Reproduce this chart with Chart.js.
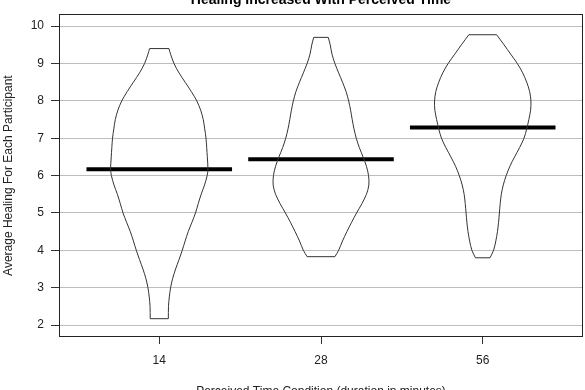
<!DOCTYPE html>
<html>
<head>
<meta charset="utf-8">
<script src="https://cdn.jsdelivr.net/npm/chart.js@4"></script>
<style>
html,body{margin:0;padding:0;background:#fff;}
#wrap{width:585px;height:390px;position:relative;}
</style>
</head>
<body>
<div id="wrap"><canvas id="c" width="585" height="390"></canvas></div>
<script>
// ---- data ----
const categories = ['14', '28', '56'];
const means = [6.17, 6.44, 7.29];
const yTicks = [2, 3, 4, 5, 6, 7, 8, 9, 10];

// violin profiles: levels (healing) and half-widths (in category units), top to bottom
const levels14 = [9.4, 9.25, 9.0, 8.75, 8.5, 8.25, 8.0, 7.75, 7.5, 7.25, 7.0, 6.5, 6.17, 6.0, 5.75, 5.5, 5.25, 5.0, 4.75, 4.5, 4.25, 4.0, 3.75, 3.5, 3.25, 3.0, 2.75, 2.5, 2.17];
const widths14 = [0.060, 0.070, 0.091, 0.122, 0.160, 0.198, 0.232, 0.256, 0.272, 0.281, 0.289, 0.297, 0.301, 0.296, 0.280, 0.259, 0.241, 0.224, 0.202, 0.179, 0.160, 0.142, 0.122, 0.101, 0.083, 0.070, 0.062, 0.057, 0.056];

const levels28 = [9.7, 9.5, 9.25, 9.0, 8.75, 8.5, 8.25, 8.0, 7.75, 7.5, 7.25, 7.0, 6.75, 6.5, 6.25, 6.0, 5.75, 5.5, 5.25, 5.0, 4.75, 4.5, 4.25, 4.0, 3.83];
const widths28 = [0.045, 0.057, 0.068, 0.086, 0.109, 0.133, 0.155, 0.171, 0.183, 0.193, 0.204, 0.218, 0.237, 0.260, 0.281, 0.294, 0.296, 0.281, 0.253, 0.220, 0.189, 0.160, 0.133, 0.109, 0.086];

const levels56 = [9.77, 9.5, 9.25, 9.0, 8.75, 8.5, 8.25, 8.0, 7.75, 7.5, 7.25, 7.0, 6.75, 6.5, 6.25, 6.0, 5.75, 5.5, 5.25, 5.0, 4.75, 4.5, 4.25, 4.0, 3.8];
const widths56 = [0.086, 0.132, 0.173, 0.214, 0.247, 0.272, 0.290, 0.298, 0.296, 0.285, 0.272, 0.255, 0.228, 0.197, 0.168, 0.145, 0.127, 0.115, 0.108, 0.103, 0.098, 0.091, 0.081, 0.067, 0.045];

const titleText = 'Healing Increased With Perceived Time';
const xTitleText = 'Perceived Time Condition (duration in minutes)';
const yTitleText = 'Average Healing For Each Participant';

// ---- build datasets ----
const FONT = '"Liberation Sans", Arial, Helvetica, sans-serif';
const profiles = [[levels14, widths14], [levels28, widths28], [levels56, widths56]];
const MEAN_HALF = 0.45;

const outline = {showLine: true, borderColor: '#333', borderWidth: 1, pointRadius: 0, fill: false};
const datasets = [];
profiles.forEach(([lv, wd], i) => {
  const c = i + 1;
  const n = lv.length;
  // right side and left side as smooth open curves
  datasets.push(Object.assign({data: lv.map((y, k) => ({x: c + wd[k], y})), tension: 0.3}, outline));
  datasets.push(Object.assign({data: lv.map((y, k) => ({x: c - wd[k], y})), tension: 0.3}, outline));
  // flat caps at top and bottom
  datasets.push(Object.assign({data: [{x: c - wd[0], y: lv[0]}, {x: c + wd[0], y: lv[0]}], tension: 0}, outline));
  datasets.push(Object.assign({data: [{x: c - wd[n - 1], y: lv[n - 1]}, {x: c + wd[n - 1], y: lv[n - 1]}], tension: 0}, outline));
});
means.forEach((m, i) => {
  const c = i + 1;
  datasets.push({
    data: [{x: c - MEAN_HALF, y: m}, {x: c + MEAN_HALF, y: m}],
    showLine: true, borderColor: '#000', borderWidth: 4, pointRadius: 0,
    borderCapStyle: 'butt', fill: false, tension: 0
  });
});

const framePlugin = {
  id: 'frame',
  afterDatasetsDraw(chart) {
    const {ctx, chartArea: a} = chart;
    ctx.save();
    ctx.strokeStyle = '#222';
    ctx.lineWidth = 1;
    ctx.strokeRect(Math.round(a.left) + 0.5, Math.round(a.top) + 0.5,
      Math.round(a.right - a.left) - 1, Math.round(a.bottom - a.top) - 1);
    ctx.restore();
  },
  afterDraw(chart) {
    const {ctx, chartArea: a} = chart;
    const cx = (a.left + a.right) / 2;
    ctx.save();
    ctx.fillStyle = '#000';
    ctx.textAlign = 'center';
    ctx.textBaseline = 'alphabetic';
    ctx.font = 'bold 14px ' + FONT;
    ctx.fillText(titleText, cx, 4);
    ctx.fillStyle = '#222';
    ctx.font = '12px ' + FONT;
    ctx.fillText(xTitleText, cx, 395);
    ctx.translate(12, (a.top + a.bottom) / 2);
    ctx.rotate(-Math.PI / 2);
    ctx.fillText(yTitleText, 0, 0);
    ctx.restore();
  }
};

new Chart(document.getElementById('c'), {
  type: 'scatter',
  data: {datasets},
  options: {
    responsive: false,
    animation: false,
    devicePixelRatio: 1,
    layout: {padding: {top: 14, right: 2, left: 0, bottom: 0}},
    plugins: {legend: {display: false}, tooltip: {enabled: false}, title: {display: false}},
    scales: {
      x: {
        type: 'linear', min: 0.38, max: 3.62,
        afterFit(s) { s.height = 53; },
        afterBuildTicks(s) { s.ticks = categories.map((_, i) => ({value: i + 1})); },
        ticks: {
          callback: (v) => categories[Math.round(v) - 1] ?? '',
          font: {family: FONT, size: 12}, color: '#222', padding: 9, maxRotation: 0
        },
        grid: {drawOnChartArea: false, tickLength: 7, tickColor: '#333', tickWidth: 1},
        border: {display: false}
      },
      y: {
        type: 'linear', min: 1.68, max: 10.32,
        afterFit(s) { s.width = 59; },
        afterBuildTicks(s) { s.ticks = yTicks.map(v => ({value: v})); },
        ticks: {font: {family: FONT, size: 12}, color: '#222', padding: 7},
        grid: {color: '#bdbdbd', lineWidth: 1, tickLength: 8, tickColor: '#333', tickWidth: 1},
        border: {display: false}
      }
    }
  },
  plugins: [framePlugin]
});
</script>
</body>
</html>
